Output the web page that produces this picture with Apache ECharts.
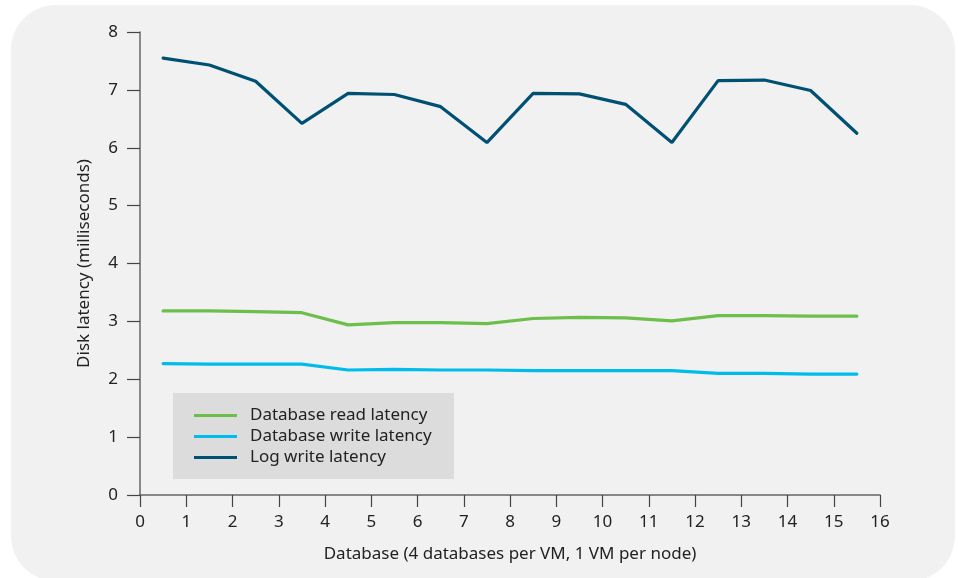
<!DOCTYPE html>
<html>
<head>
<meta charset="utf-8">
<script src="https://cdn.jsdelivr.net/npm/echarts@6/dist/echarts.min.js"></script>
<style>html,body{margin:0;padding:0;background:#fff;}#c{width:958px;height:578px;}</style>
</head>
<body>
<div id="c"></div>
<script>
var xPositions = [0.5,1.5,2.5,3.5,4.5,5.5,6.5,7.5,8.5,9.5,10.5,11.5,12.5,13.5,14.5,15.5];
var readLatency = [3.18,3.18,3.17,3.15,2.94,2.98,2.98,2.96,3.05,3.07,3.06,3.01,3.10,3.10,3.09,3.09];
var writeLatency = [2.27,2.26,2.26,2.26,2.16,2.17,2.16,2.16,2.15,2.15,2.15,2.15,2.10,2.10,2.09,2.09];
var logLatency = [7.55,7.43,7.15,6.42,6.94,6.92,6.71,6.09,6.94,6.93,6.75,6.09,7.16,7.17,6.99,6.25];
var seriesNames = ['Database read latency','Database write latency','Log write latency'];
var xTitle = 'Database (4 databases per VM, 1 VM per node)';
var yTitle = 'Disk latency (milliseconds)';

function pairs(vals){ return xPositions.map(function(x,i){ return [x, vals[i]]; }); }

var font = '"Noto Sans", "Liberation Sans", sans-serif';
var fs = 17;
var chart = echarts.init(document.getElementById('c'), null, {renderer:'canvas'});
var colors = ['#6cbf4a','#00bceb','#005073'];
chart.setOption({
  animation:false,
  backgroundColor:'#ffffff',
  graphic:[
    {type:'rect', z:-10, silent:true, shape:{x:11,y:5,width:944,height:576,r:45}, style:{fill:'#f1f1f1'}},
    {type:'rect', z:0, silent:true, shape:{x:173,y:393,width:281,height:86}, style:{fill:'#dcdcdc'}}
  ],
  grid:{left:140,right:78,top:32,bottom:83,containLabel:false},
  legend:{
    orient:'vertical', left:173, top:393, z:10,
    padding:[12,0,0,21], itemGap:0, itemWidth:43, itemHeight:3, icon:'rect',
    textStyle:{fontFamily:font, fontSize:fs, lineHeight:21, color:'#222', padding:[0,0,0,8]},
    data:seriesNames
  },
  xAxis:{
    type:'value', min:0, max:16, interval:1,
    name:xTitle, nameLocation:'middle', nameGap:51,
    nameTextStyle:{fontFamily:font, fontSize:fs, color:'#222'},
    axisLine:{show:true, lineStyle:{color:'#666', width:1.5}},
    axisTick:{show:true, length:12, lineStyle:{color:'#444', width:1.2}},
    axisLabel:{fontFamily:font, fontSize:fs, color:'#222', margin:19},
    splitLine:{show:false}
  },
  yAxis:{
    type:'value', min:0, max:8, interval:1,
    name:yTitle, nameLocation:'middle', nameGap:47, nameRotate:90,
    nameTextStyle:{fontFamily:font, fontSize:fs, color:'#222'},
    axisLine:{show:true, lineStyle:{color:'#666', width:1.5}},
    axisTick:{show:true, length:13, lineStyle:{color:'#444', width:1.2}},
    axisLabel:{fontFamily:font, fontSize:fs, color:'#222', margin:22},
    splitLine:{show:false}
  },
  series:[
    {name:seriesNames[0], type:'line', data:pairs(readLatency), symbol:'none', lineStyle:{width:3.2, color:colors[0], cap:'round'}, itemStyle:{color:colors[0]}},
    {name:seriesNames[1], type:'line', data:pairs(writeLatency), symbol:'none', lineStyle:{width:3.2, color:colors[1], cap:'round'}, itemStyle:{color:colors[1]}},
    {name:seriesNames[2], type:'line', data:pairs(logLatency), symbol:'none', lineStyle:{width:3.2, color:colors[2], cap:'round'}, itemStyle:{color:colors[2]}}
  ]
});
</script>
</body>
</html>
